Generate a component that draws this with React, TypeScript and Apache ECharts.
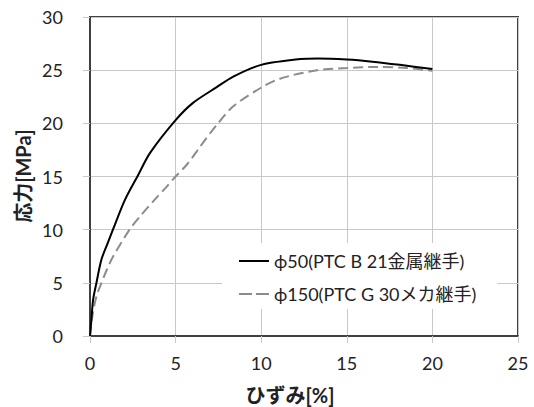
import React, { useEffect, useRef } from "react";
import * as echarts from "echarts";

// φ50 (PTC B 21 金属継手) — solid
const strainA = [0, 0.08, 0.18, 0.37, 0.66, 1.0, 1.34, 2.04, 2.8, 3.5, 5.0, 6.0, 7.4, 8.37, 10.0, 12.28, 13.3, 15, 16.5, 18.1, 20];
const stressA = [0, 1.5, 3.4, 4.95, 7.15, 8.6, 10.0, 12.8, 15.1, 17.2, 20.3, 21.9, 23.4, 24.4, 25.5, 26.05, 26.1, 26.0, 25.8, 25.5, 25.1];

// φ150 (PTC G 30 メカ継手) — dashed
const strainB = [0, 0.15, 0.37, 0.66, 1.0, 1.34, 2.31, 3.0, 3.77, 4.48, 5.0, 5.7, 6.43, 7.4, 8.37, 9.94, 11.1, 13.26, 15, 16.76, 18.5, 20];
const stressB = [0, 2.0, 3.7, 4.95, 6.3, 7.45, 10.0, 11.4, 12.8, 14.05, 15.0, 16.2, 17.8, 19.85, 21.6, 23.3, 24.2, 25.0, 25.2, 25.3, 25.2, 24.95];

const seriesNames = ["ϕ50(PTC B 21金属継手)", "ϕ150(PTC G 30メカ継手)"];
const xTitle = "ひずみ[%]";
const yTitle = "応力[MPa]";

const FONT = "Lato, 'Noto Sans CJK JP', sans-serif";

export default function App() {
  const ref = useRef<HTMLDivElement>(null);
  useEffect(() => {
    if (!ref.current) return;
    const chart = echarts.init(ref.current, undefined, { renderer: "svg" });
    const pairs = (xs: number[], ys: number[]) => xs.map((x, i) => [x, ys[i]]);
    const axisCommon = {
      type: "value" as const,
      axisLine: { show: true, onZero: false, lineStyle: { color: "#404040", width: 2 } },
      axisTick: { show: true, length: 7, lineStyle: { color: "#c8c8c8", width: 1 } },
      splitLine: { show: true, lineStyle: { color: "#c8c8c8", width: 1 } },
      axisLabel: { color: "#222", fontSize: 18, fontFamily: FONT },
    };
    chart.setOption({
      animation: false,
      backgroundColor: "#fff",
      grid: {
        left: 90,
        top: 17,
        right: 16,
        bottom: 71,
        show: true,
        borderColor: "#404040",
        borderWidth: 2,
        containLabel: false,
        outerBoundsMode: "none",
      },
      xAxis: {
        ...axisCommon,
        min: 0,
        max: 25,
        interval: 5,
        axisLabel: { ...axisCommon.axisLabel, margin: 18 },
      },
      yAxis: {
        ...axisCommon,
        min: 0,
        max: 30,
        interval: 5,
        axisLabel: { ...axisCommon.axisLabel, margin: 27 },
      },
      legend: {
        show: true,
        orient: "vertical",
        left: 222,
        top: 243,
        backgroundColor: "#fff",
        padding: [9, 21, 6, 16],
        itemWidth: 30,
        itemHeight: 14,
        itemGap: 15,
        itemStyle: { opacity: 0 },
        textStyle: { fontSize: 18, fontFamily: FONT, color: "#222" },
        data: [
          { name: seriesNames[0] },
          { name: seriesNames[1], lineStyle: { type: [13, 4] } },
        ],
      },
      series: [
        {
          name: seriesNames[0],
          type: "line",
          data: pairs(strainA, stressA),
          symbol: "none",
          showSymbol: false,
          smooth: 0.3,
          lineStyle: { color: "#000", width: 2 },
          itemStyle: { color: "#000" },
          z: 3,
        },
        {
          name: seriesNames[1],
          type: "line",
          data: pairs(strainB, stressB),
          symbol: "none",
          showSymbol: false,
          smooth: 0.3,
          lineStyle: { color: "#8c8c8c", width: 2, type: [10, 5] },
          itemStyle: { color: "#8c8c8c" },
          z: 2,
        },
      ],
      graphic: [
        {
          type: "text",
          x: 290,
          y: 395,
          style: {
            text: xTitle,
            fontSize: 20,
            fontWeight: "bold",
            fontFamily: FONT,
            fill: "#222",
            align: "center",
            verticalAlign: "middle",
          },
        },
        {
          type: "text",
          x: 23,
          y: 176,
          rotation: Math.PI / 2,
          style: {
            text: yTitle,
            fontSize: 20,
            fontWeight: "bold",
            fontFamily: FONT,
            fill: "#222",
            align: "center",
            verticalAlign: "middle",
          },
        },
      ],
    });
    return () => chart.dispose();
  }, []);
  return (
    <div
      ref={ref}
      style={{ position: "fixed", left: 0, top: 0, width: 534, height: 407 }}
    />
  );
}
